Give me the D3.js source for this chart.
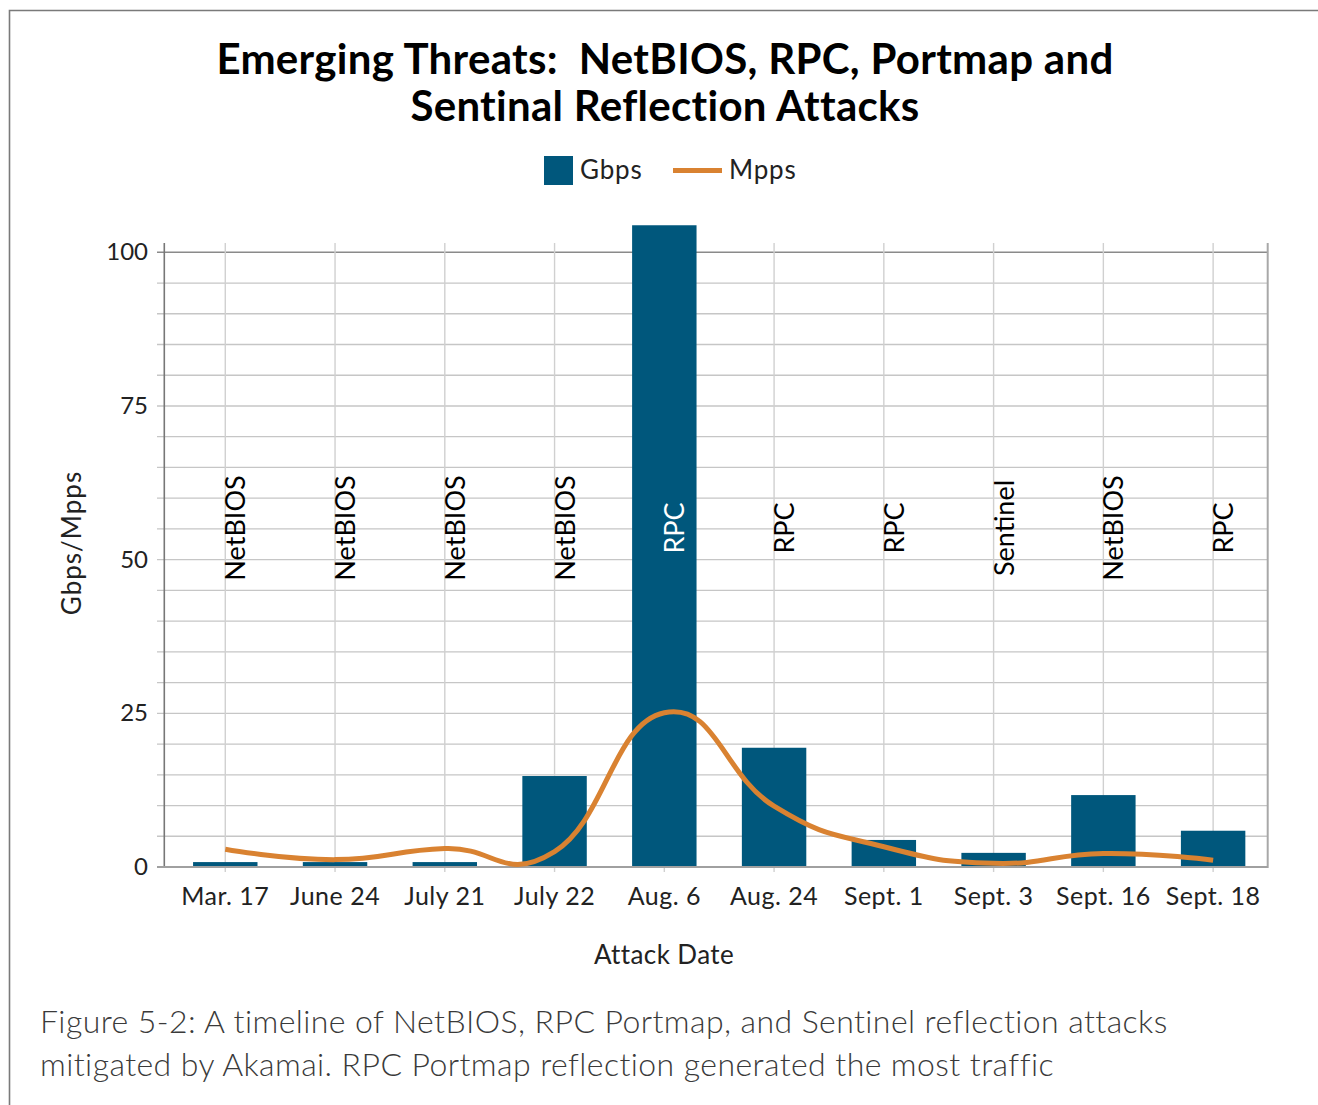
<!DOCTYPE html>
<html>
<head>
<meta charset="utf-8">
<script src="https://cdn.jsdelivr.net/npm/d3@7"></script>
<style>
  html, body { margin: 0; padding: 0; background: #fff; }
  svg { display: block; font-family: "Lato", "Noto Sans", sans-serif; }
</style>
</head>
<body>
<svg id="chart" width="1318" height="1105"></svg>
<script>
// Attack dates (categories)
const dates = ["Mar. 17", "June 24", "July 21", "July 22", "Aug. 6", "Aug. 24", "Sept. 1", "Sept. 3", "Sept. 16", "Sept. 18"];
// Attack vector of each event
const vectors = ["NetBIOS", "NetBIOS", "NetBIOS", "NetBIOS", "RPC", "RPC", "RPC", "Sentinel", "NetBIOS", "RPC"];
// Peak bandwidth (Gbps)
const gbps = [0.8, 0.8, 0.8, 14.8, 104.4, 19.4, 4.4, 2.3, 11.7, 5.9];
// Peak packet rate (Mpps)
const mpps = [2.9, 1.2, 3.0, 2.5, 25.1, 9.9, 3.3, 0.6, 2.2, 1.1];
// Labelled y ticks
const yTicks = [0, 25, 50, 75, 100];

const svg = d3.select("#chart");

// outer frame
svg.append("path")
  .attr("d", "M9.5,1105 V10.5 H1318")
  .attr("fill", "none").attr("stroke", "#7a7a7a").attr("stroke-width", 1.6);

const plotLeft = 164.3, plotRight = 1267.7;
const x = d3.scaleBand().domain(dates).range([170.4, 1268]).paddingInner(0.413).paddingOuter(0.2065);
const y = d3.scaleLinear().domain([0, 100]).range([867, 252.3]);
const plotTop = y(101.5);
const cx = d => x(d) + x.bandwidth() / 2;

// horizontal grid every 5 units
const g = svg.append("g");
g.selectAll("line.h").data(d3.range(5, 101, 5)).join("line")
  .attr("x1", 157).attr("x2", plotRight)
  .attr("y1", d => y(d)).attr("y2", d => y(d))
  .attr("stroke", d => d === 100 ? "#8a8a8a" : "#c6c6c6")
  .attr("stroke-width", d => d === 100 ? 1.6 : 1.3);

// vertical grid at category centres
g.selectAll("line.v").data(dates).join("line")
  .attr("x1", cx).attr("x2", cx)
  .attr("y1", plotTop).attr("y2", 872)
  .attr("stroke", "#d0d0d0").attr("stroke-width", 1.4);

// right border of plot
g.append("line").attr("x1", plotRight).attr("x2", plotRight).attr("y1", plotTop).attr("y2", 868)
  .attr("stroke", "#a8a8a8").attr("stroke-width", 2);

// bars
svg.append("g").selectAll("rect").data(gbps).join("rect")
  .attr("x", (d, i) => x(dates[i]))
  .attr("width", x.bandwidth())
  .attr("y", d => y(d))
  .attr("height", d => y(0) - y(d))
  .attr("fill", "#00577c");

// axes lines
svg.append("line").attr("x1", plotLeft).attr("x2", plotLeft).attr("y1", plotTop).attr("y2", 868)
  .attr("stroke", "#777").attr("stroke-width", 1.6);
svg.append("line").attr("x1", 157).attr("x2", plotRight).attr("y1", y(0)).attr("y2", y(0))
  .attr("stroke", "#a0a0a0").attr("stroke-width", 2);

// Mpps smoothed line
const line = d3.line()
  .x((d, i) => cx(dates[i]))
  .y(d => y(d))
  .curve(d3.curveCardinal.tension(-0.4));
svg.append("path").datum(mpps)
  .attr("d", line)
  .attr("fill", "none")
  .attr("stroke", "#d98231")
  .attr("stroke-width", 5);

// vertical attack-vector labels
svg.append("g").selectAll("text").data(vectors).join("text")
  .attr("transform", (d, i) => `translate(${cx(dates[i]) + 20},528) rotate(-90)`)
  .attr("text-anchor", "middle")
  .attr("font-size", 27)
  .attr("fill", (d, i) => gbps[i] > 60 ? "#fff" : "#000")
  .text(d => d);

// y tick labels
svg.append("g").selectAll("text").data(yTicks).join("text")
  .attr("x", 148).attr("y", d => y(d) + 8)
  .attr("text-anchor", "end")
  .attr("font-size", 24).attr("fill", "#222")
  .text(d => d);

// x tick labels
svg.append("g").selectAll("text").data(dates).join("text")
  .attr("x", cx).attr("y", 905)
  .attr("text-anchor", "middle")
  .attr("font-size", 25).attr("letter-spacing", 0.5).attr("fill", "#222")
  .text(d => d);

// axis titles
svg.append("text").attr("x", 664).attr("y", 964).attr("text-anchor", "middle")
  .attr("font-size", 26).attr("letter-spacing", 0.4).attr("fill", "#222").text("Attack Date");
svg.append("text").attr("transform", "translate(81,543) rotate(-90)").attr("text-anchor", "middle")
  .attr("font-size", 26).attr("letter-spacing", 1).attr("fill", "#222").text("Gbps/Mpps");

// title
const title = svg.append("text").attr("text-anchor", "middle").attr("font-size", 42)
  .attr("letter-spacing", 0.3).attr("font-weight", "bold").attr("fill", "#000");
title.append("tspan").attr("x", 665).attr("y", 74)
  .text("Emerging Threats:\u00a0 NetBIOS, RPC, Portmap and");
title.append("tspan").attr("x", 665).attr("y", 121).text("Sentinal Reflection Attacks");

// legend
const leg = svg.append("g");
leg.append("rect").attr("x", 544).attr("y", 156).attr("width", 29).attr("height", 29).attr("fill", "#00577c");
leg.append("text").attr("x", 580).attr("y", 179).attr("font-size", 26).attr("letter-spacing", 0.8)
  .attr("fill", "#222").text("Gbps");
leg.append("line").attr("x1", 673).attr("x2", 722).attr("y1", 170.5).attr("y2", 170.5)
  .attr("stroke", "#d98231").attr("stroke-width", 5);
leg.append("text").attr("x", 729).attr("y", 179).attr("font-size", 26).attr("letter-spacing", 0.8)
  .attr("fill", "#222").text("Mpps");

// caption
const cap = svg.append("text").attr("font-size", 32).attr("letter-spacing", 0.42)
  .attr("fill", "#3a3a3a").attr("font-weight", 300);
cap.append("tspan").attr("x", 40).attr("y", 1033)
  .text("Figure 5-2: A timeline of NetBIOS, RPC Portmap, and Sentinel reflection attacks");
cap.append("tspan").attr("x", 40).attr("y", 1076)
  .text("mitigated by Akamai. RPC Portmap reflection generated the most traffic");
</script>
</body>
</html>
